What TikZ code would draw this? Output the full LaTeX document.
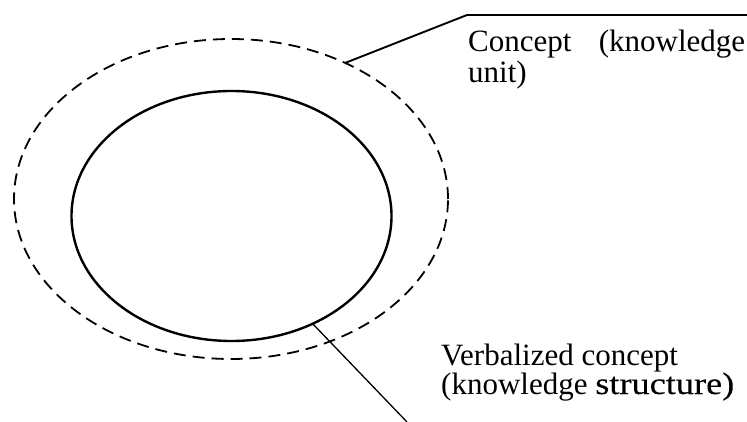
\documentclass[tikz,border=0pt]{standalone}
\usepackage{fontspec}
\setmainfont{Liberation Serif}
\newfontfamily\widefont[FakeStretch=1.17,FakeBold=0.15]{Liberation Serif}
\usetikzlibrary{shapes.geometric}
\begin{document}
\begin{tikzpicture}[x=1pt,y=-1pt,
  oval/.style={ellipse, inner sep=0pt, outer sep=0pt},
  label/.style={anchor=base west, inner sep=0pt, font=\fontsize{31}{32}\selectfont},
  leader/.style={line width=1.4pt}]
\useasboundingbox (0,0) rectangle (747,422);
\node[oval, draw, dash pattern=on 12pt off 7pt, line width=1.8pt,
      minimum width=434pt, minimum height=320pt] (outer) at (231,199) {};
\node[oval, draw, line width=2.4pt,
      minimum width=320pt, minimum height=250pt] (inner) at (231.5,216) {};
\coordinate (k1) at (467,15);
\coordinate (k2) at (747,15);
\coordinate (e2) at (407,422);
\draw[leader, line width=1.9pt] (outer.50.7) -- (k1) -- (k2);
\draw[leader, line width=1.3pt] (inner.-53.9) -- (e2);
\node[label] (c1) at (468,51.5) {\makebox[277pt][s]{Concept (knowledge}};
\node[label] (c2) at (468,83) {unit)};
\node[label] (v1) at (441,365) {Verbalized concept};
\node[label] (v2) at (441,394) {(knowledge {\widefont structure)}};
\end{tikzpicture}
\end{document}
